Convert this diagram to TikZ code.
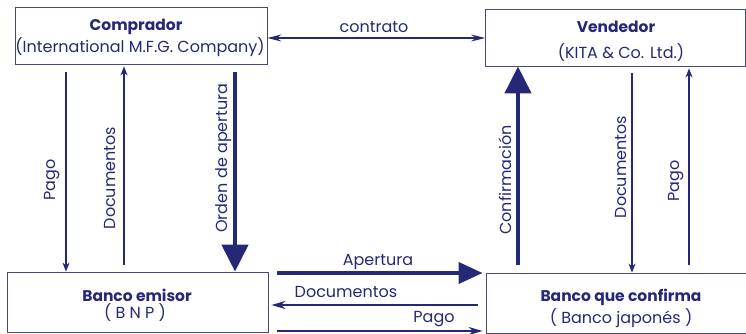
\documentclass[tikz,border=0pt]{standalone}
\usepackage{fontspec}
\setmainfont{Poppins}
\usetikzlibrary{arrows.meta}
\definecolor{navy}{RGB}{36,40,118}
\definecolor{boxc}{RGB}{70,72,120}
\tikzset{
  box/.style={draw=boxc, line width=0.8pt, inner sep=0pt},
  lbl/.style={text=navy, inner sep=0pt, font=\fontsize{16}{18}\selectfont},
  ttl/.style={lbl, font=\fontsize{15.5}{18}\selectfont\bfseries},
  vlbl/.style={lbl, rotate=90},
  thinarrow/.style={draw=navy, line width=1.7pt, -{Stealth[length=9pt,width=7pt]}},
  biarrow/.style={draw=navy, line width=1.4pt, {Stealth[length=14pt,width=7pt]}-{Stealth[length=14pt,width=7pt]}},
  hthin/.style={draw=navy, line width=2.2pt, -{Stealth[length=14pt,width=8pt]}},
  thickarrow/.style={draw=navy, line width=4.5pt, -{Triangle[length=27pt,width=26pt]}},
  hthick/.style={draw=navy, line width=3.8pt, -{Triangle[length=24pt,width=21pt]}},
}
\begin{document}
\begin{tikzpicture}[x=1pt,y=-1pt]
\useasboundingbox (0,0) rectangle (746,333);
% boxes
\node[box, minimum width=252pt, minimum height=57pt] (comp) at (141,35.5) {};
\node[box, minimum width=260pt, minimum height=57pt] (vend) at (615.5,37.5) {};
\node[box, minimum width=261pt, minimum height=60pt] (emi) at (137.5,302) {};
\node[box, minimum width=260pt, minimum height=60pt] (conf) at (616,303) {};
% box texts
\node[ttl] (compt) at (136,27) {Comprador};
\node[lbl] (comps) at (140,47) {(International M.F.G. Company)};
\node[ttl] (vendt) at (616,27) {Vendedor};
\node[lbl] (vends) at (621,53) {(KITA \& Co. Ltd.)};
\node[ttl] (emit) at (137,295) {Banco emisor};
\node[lbl] (emis) at (135,313) {( B N P )};
\node[ttl] (conft) at (621,297) {Banco que confirma};
\node[lbl] (confs) at (621,318) {( Banco japonés )};
% reference coordinates
\coordinate (xa) at (66,0);
\coordinate (xb) at (124,0);
\coordinate (xc) at (235,0);
\coordinate (xd) at (518,0);
\coordinate (xe) at (632,0);
\coordinate (xf) at (689,0);
\coordinate (ya) at (0,38);
\coordinate (yb) at (0,273);
\coordinate (yc) at (0,305);
\coordinate (yd) at (0,331);
% vertical connectors
\draw[thinarrow, shorten <=8pt] (comp.south -| xa) -- (emi.north -| xa);
\draw[thinarrow, shorten <=7pt, shorten >=2pt] (emi.north -| xb) -- (comp.south -| xb);
\draw[thickarrow, shorten <=8pt] (comp.south -| xc) -- (emi.north -| xc);
\draw[thickarrow, shorten <=8pt] (conf.north -| xd) -- (vend.south -| xd);
\draw[thinarrow, shorten <=7pt] (vend.south -| xe) -- (conf.north -| xe);
\draw[thinarrow, shorten <=8pt, shorten >=2pt] (conf.north -| xf) -- (vend.south -| xf);
% horizontal connectors
\draw[biarrow] (comp.east |- ya) -- (vend.west |- ya);
\draw[hthick, shorten <=9pt, shorten >=3pt] (emi.east |- yb) -- (conf.west |- yb);
\draw[hthin, shorten <=8pt, shorten >=3pt] (conf.west |- yc) -- (emi.east |- yc);
\draw[hthin, shorten <=9pt, shorten >=3pt] (emi.east |- yd) -- (conf.west |- yd);
% labels
\node[lbl] (lcontrato) at (374,27) {contrato};
\node[lbl] (lapertura) at (378,262) {Apertura};
\node[lbl] (ldocb) at (346,292) {Documentos};
\node[lbl] (lpagob) at (434,319) {Pago};
\node[vlbl] (lpagol) at (52,180) {Pago};
\node[vlbl] (ldocl) at (110,178) {Documentos};
\node[vlbl] (lorden) at (223.5,158) {Orden de apertura};
\node[vlbl] (lconf) at (505,180) {Confirmación};
\node[vlbl] (ldocr) at (621,167) {Documentos};
\node[vlbl] (lpagor) at (676,181) {Pago};
\end{tikzpicture}
\end{document}
